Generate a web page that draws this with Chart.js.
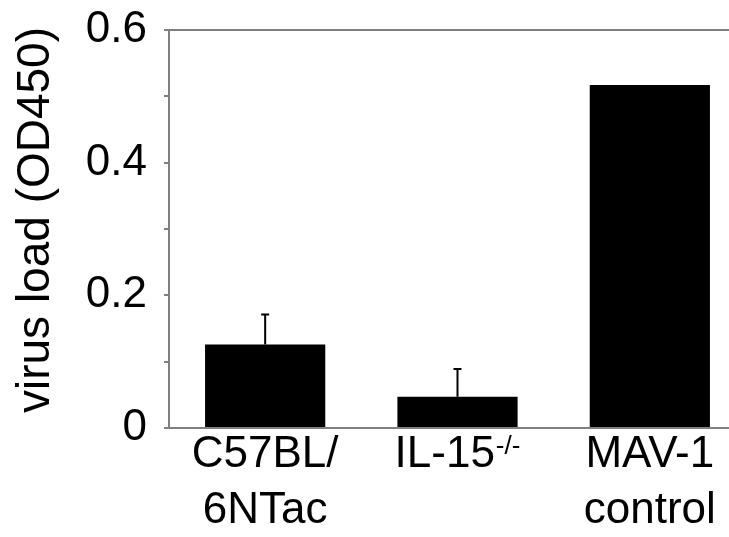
<!DOCTYPE html>
<html>
<head>
<meta charset="utf-8">
<script src="https://cdn.jsdelivr.net/npm/chart.js@4"></script>
<style>
  html, body { margin: 0; padding: 0; background: #fff; overflow: hidden; }
  #wrap { width: 746px; height: 537px; }
</style>
</head>
<body>
<div id="wrap"><canvas id="chart"></canvas></div>
<script>
// values
const categories = ['C57BL/6NTac', 'IL-15-/-', 'MAV-1 control'];
// '^' marks the start of a superscript
const labelLines = [['C57BL/', '6NTac'], ['IL-15^-/-'], ['MAV-1', 'control']];
const virusLoad = [0.126, 0.047, 0.517];
const virusLoadErr = [0.045, 0.042, null];
const yTickLabels = [0, 0.2, 0.4, 0.6];
const yTitle = 'virus load (OD450)';

const FONT = '"Liberation Sans", Arial, Helvetica, sans-serif';
const AXIS = '#808080';

// upper error whiskers
const errorBars = {
  id: 'errorBars',
  afterDatasetsDraw(chart) {
    const ctx = chart.ctx;
    const y = chart.scales.y;
    const meta = chart.getDatasetMeta(0);
    ctx.save();
    ctx.strokeStyle = '#000';
    ctx.lineWidth = 2;
    meta.data.forEach((bar, i) => {
      if (virusLoadErr[i] == null) return;
      const top = y.getPixelForValue(virusLoad[i] + virusLoadErr[i]);
      ctx.beginPath();
      ctx.moveTo(bar.x, bar.y);
      ctx.lineTo(bar.x, top);
      ctx.moveTo(bar.x - 4, top);
      ctx.lineTo(bar.x + 4, top);
      ctx.stroke();
    });
    ctx.restore();
  }
};

// category labels and axis title, drawn by hand so IL-15 can get its superscript
const axisText = {
  id: 'axisText',
  afterDraw(chart) {
    const ctx = chart.ctx;
    const x = chart.scales.x;
    const area = chart.chartArea;
    ctx.save();
    ctx.fillStyle = '#000';
    ctx.textBaseline = 'alphabetic';
    ctx.textAlign = 'left';
    labelLines.forEach((lines, i) => {
      const cx = x.getPixelForValue(i);
      lines.forEach((line, j) => {
        const parts = line.split('^');
        ctx.font = '44px ' + FONT;
        const w1 = ctx.measureText(parts[0]).width;
        let w2 = 0;
        if (parts[1]) {
          ctx.font = '26px ' + FONT;
          w2 = ctx.measureText(parts[1]).width + 1;
        }
        const left = cx - (w1 + w2) / 2;
        const by = area.bottom + 39 + j * 56;
        ctx.font = '44px ' + FONT;
        ctx.fillText(parts[0], left, by);
        if (parts[1]) {
          ctx.font = '26px ' + FONT;
          ctx.fillText(parts[1], left + w1 + 1, by - 13);
        }
      });
    });

    // y title, sits a little above the middle of the axis
    ctx.translate(36, (area.top + area.bottom) / 2 - 9);
    ctx.rotate(-Math.PI / 2);
    ctx.textAlign = 'center';
    ctx.textBaseline = 'middle';
    ctx.font = '46px ' + FONT;
    ctx.fillText(yTitle, 0, 0);
    ctx.restore();
  }
};

new Chart(document.getElementById('chart'), {
  type: 'bar',
  data: {
    labels: categories,
    datasets: [{
      data: virusLoad,
      backgroundColor: '#000',
      borderWidth: 0,
      barPercentage: 1,
      categoryPercentage: 0.625
    }]
  },
  options: {
    responsive: true,
    maintainAspectRatio: false,
    animation: false,
    layout: { padding: 0 },
    plugins: {
      legend: { display: false },
      tooltip: { enabled: false }
    },
    scales: {
      x: {
        offset: true,
        ticks: { display: false },
        grid: { display: false },
        border: { display: true, color: AXIS, width: 2 },
        afterFit(scale) { scale.height = 109; }
      },
      x2: {
        position: 'top',
        offset: true,
        ticks: { display: false },
        grid: { display: false },
        border: { display: true, color: AXIS, width: 2 },
        afterFit(scale) { scale.height = 30; }
      },
      y: {
        min: 0,
        max: 0.6,
        ticks: {
          stepSize: 0.1,
          padding: 17,
          color: '#000',
          font: { family: FONT, size: 44 },
          callback(v) {
            const t = yTickLabels.find(k => Math.abs(k - v) < 1e-6);
            if (t === undefined) return '';
            return t === 0 ? '0' : t.toFixed(1);
          }
        },
        grid: {
          drawOnChartArea: false,
          tickLength: 5,
          color: AXIS,
          lineWidth: 2
        },
        border: { display: true, color: AXIS, width: 2 },
        afterFit(scale) {
          scale.width = 169;
          scale.paddingTop = 0;
          scale.paddingBottom = 0;
        }
      }
    }
  },
  plugins: [errorBars, axisText]
});
</script>
</body>
</html>
